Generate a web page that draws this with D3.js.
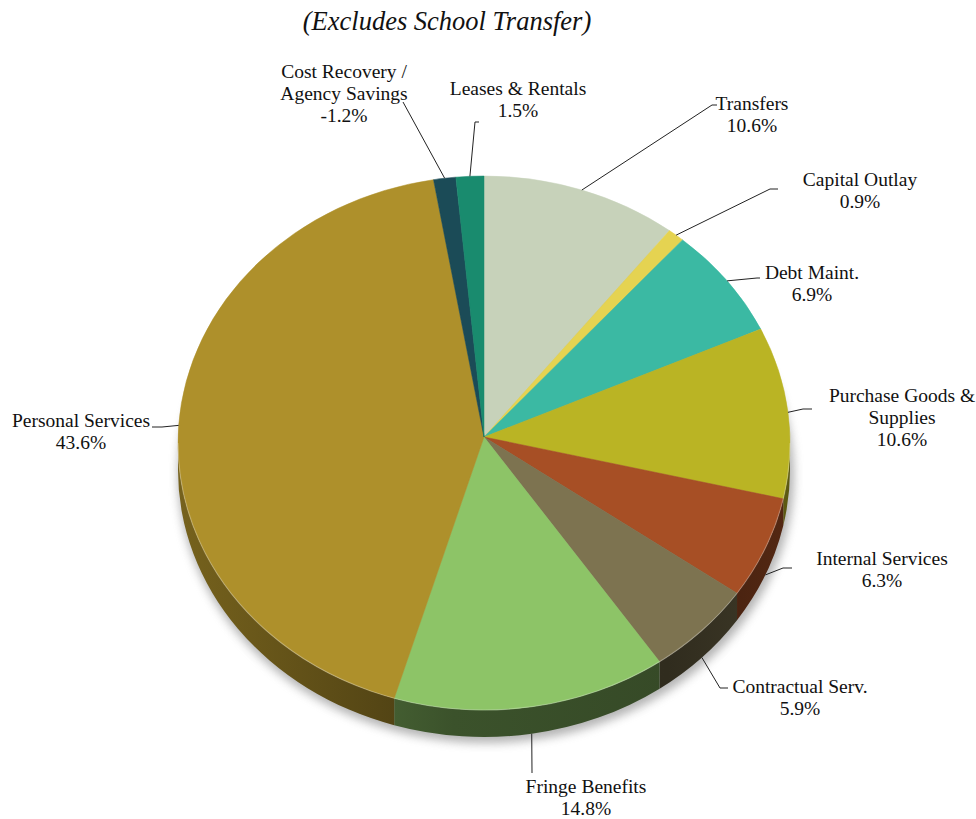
<!DOCTYPE html>
<html>
<head>
<meta charset="utf-8">
<script src="https://cdn.jsdelivr.net/npm/d3@7"></script>
<style>
  body { margin: 0; background: #fff; }
  svg text { font-family: "Liberation Serif", serif; fill: #111; }
</style>
</head>
<body>
<div id="chart"></div>
<script>
// data, clockwise from 12 o'clock
const categories = ["Transfers", "Capital Outlay", "Debt Maint.", "Purchase Goods & Supplies",
  "Internal Services", "Contractual Serv.", "Fringe Benefits", "Personal Services",
  "Cost Recovery / Agency Savings", "Leases & Rentals"];
const shares = [10.6, 0.9, 6.9, 10.6, 6.3, 5.9, 14.8, 43.6, -1.2, 1.5];
const colors = ["#c7d2ba", "#e5d351", "#3bb9a3", "#bab424", "#a74f25",
  "#7d7350", "#8dc467", "#ae902b", "#1b4b57", "#198b6e"];
const labelLines = [
  ["Transfers"], ["Capital Outlay"], ["Debt Maint."], ["Purchase Goods &", "Supplies"],
  ["Internal Services"], ["Contractual Serv."], ["Fringe Benefits"], ["Personal Services"],
  ["Cost Recovery /", "Agency Savings"], ["Leases & Rentals"]
];

// label layout: text centre, first baseline, leader elbow and end
const labelPos = [
  { x: 752, y: 110, elbow: [712, 105], end: [717, 105] },
  { x: 860, y: 186, elbow: [770, 189], end: [778, 189] },
  { x: 812, y: 279, elbow: [757, 278], end: [760, 278] },
  { x: 902, y: 402, elbow: [803, 409], end: [812, 409] },
  { x: 882, y: 565, elbow: [783, 568], end: [792, 568] },
  { x: 800, y: 693, elbow: [720, 688], end: [728, 688] },
  { x: 586, y: 793, elbow: [532, 773], end: [532, 773] },
  { x: 81,  y: 427, elbow: [162, 427], end: [152, 427] },
  { x: 344, y: 78,  elbow: [403, 102], end: [403, 102] },
  { x: 518, y: 95,  elbow: [475, 122], end: [479, 122] }
];

const width = 976, height = 819;
const cx = 484, cy = 443, rx = 306, ry = 267, depth = 27;
const lineH = 22;

const svg = d3.select("#chart").append("svg")
  .attr("width", width).attr("height", height);

const defs = svg.append("defs");
defs.append("filter").attr("id", "shadow")
  .attr("x", "-20%").attr("y", "-20%").attr("width", "140%").attr("height", "140%")
  .append("feGaussianBlur").attr("stdDeviation", 5);

const data = shares.map((v, i) => ({ name: categories[i], value: v, color: colors[i], i }));
const pie = d3.pie().sort(null).value(d => Math.abs(d.value)).startAngle(0).endAngle(2 * Math.PI);
const arcs = pie(data);

const P = (a, dy = 0) => [cx + rx * Math.sin(a), cy - ry * Math.cos(a) + dy];

// side gradients (darker towards the front)
arcs.forEach(d => {
  const base = d3.rgb(d.data.color);
  const g = defs.append("linearGradient").attr("id", "side" + d.index)
    .attr("gradientUnits", "userSpaceOnUse")
    .attr("x1", cx - rx).attr("x2", cx + rx).attr("y1", 0).attr("y2", 0);
  [[0, 0.68], [0.45, 0.42], [0.8, 0.38], [1, 0.5]].forEach(([o, k]) => {
    g.append("stop").attr("offset", o)
      .attr("stop-color", d3.rgb(base.r * k, base.g * k, base.b * k).formatHex());
  });
});

// shadow under the pie
svg.append("ellipse")
  .attr("cx", cx + 2).attr("cy", cy + depth + 5)
  .attr("rx", rx + 2).attr("ry", ry + 1)
  .attr("fill", "#777").attr("opacity", 0.55)
  .attr("filter", "url(#shadow)");

// side walls: only the front half shows
const sides = svg.append("g");
arcs.forEach(d => {
  const s = Math.max(d.startAngle, Math.PI / 2);
  const e = Math.min(d.endAngle, 3 * Math.PI / 2);
  if (e <= s) return;
  const a = P(s), b = P(e), b2 = P(e, depth), a2 = P(s, depth);
  const path = `M${a}A${rx},${ry} 0 0 1 ${b}L${b2}A${rx},${ry} 0 0 0 ${a2}Z`;
  sides.append("path").attr("d", path).attr("fill", `url(#side${d.index})`);
});

// top faces
const apex = [cx, cy - 6];
const tops = svg.append("g");
arcs.forEach(d => {
  const a = P(d.startAngle), b = P(d.endAngle);
  const large = d.endAngle - d.startAngle > Math.PI ? 1 : 0;
  tops.append("path")
    .attr("d", `M${apex}L${a}A${rx},${ry} 0 ${large} 1 ${b}Z`)
    .attr("fill", d.data.color)
    .attr("stroke", d.data.color).attr("stroke-width", 0.5);
});

// faint light rim on the front edge
svg.append("path")
  .attr("d", `M${P(Math.PI / 2)}A${rx},${ry} 0 0 1 ${P(3 * Math.PI / 2)}`)
  .attr("fill", "none").attr("stroke", "#fff").attr("stroke-opacity", 0.25).attr("stroke-width", 1.2);

// leader lines and labels
const labels = svg.append("g");
arcs.forEach(d => {
  const mid = (d.startAngle + d.endAngle) / 2;
  const front = mid > Math.PI / 2 && mid < 3 * Math.PI / 2;
  const anchor = P(mid, front ? depth : 0);
  const lp = labelPos[d.index];
  labels.append("polyline")
    .attr("points", [anchor, lp.elbow, lp.end].map(p => p.join(",")).join(" "))
    .attr("fill", "none").attr("stroke", "#222").attr("stroke-width", 1);

  const lines = labelLines[d.index].concat([d.data.value.toFixed(1) + "%"]);
  const t = labels.append("text").attr("text-anchor", "middle").style("font-size", "19.5px");
  lines.forEach((l, k) => {
    t.append("tspan").attr("x", lp.x).attr("y", lp.y + k * lineH).text(l);
  });
});

svg.append("text")
  .attr("x", 447).attr("y", 30)
  .attr("text-anchor", "middle")
  .style("font-size", "26.5px").style("font-style", "italic")
  .text("(Excludes School Transfer)");
</script>
</body>
</html>
